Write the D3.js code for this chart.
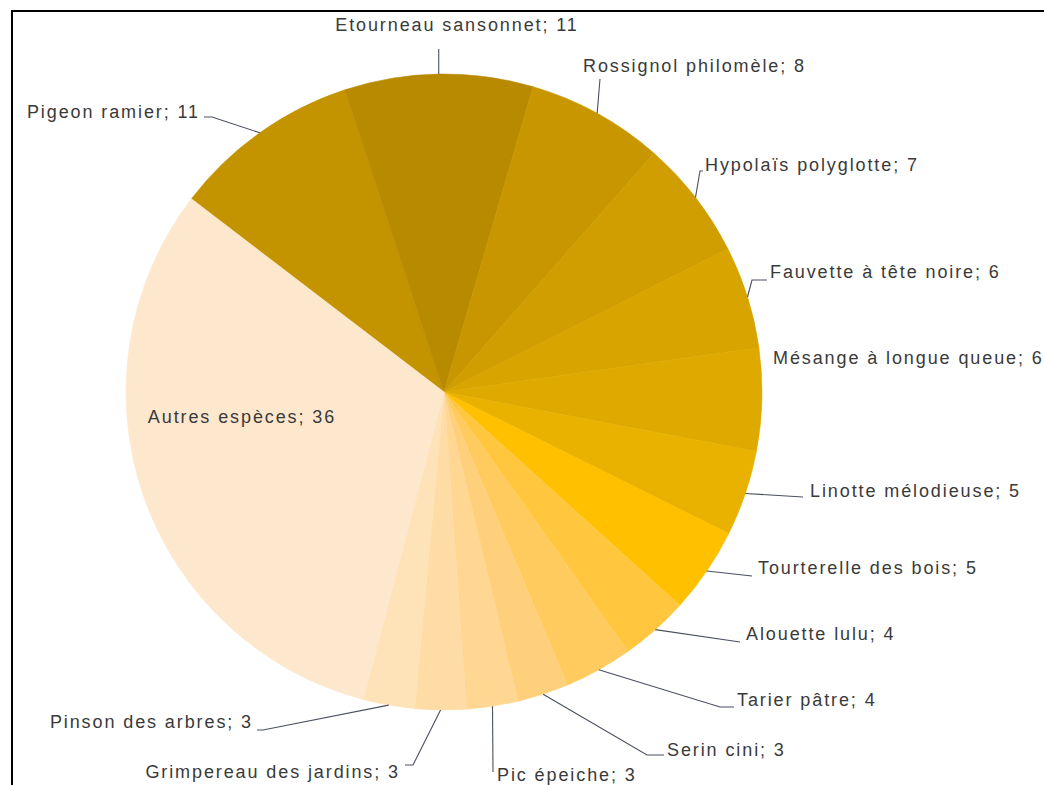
<!DOCTYPE html>
<html>
<head>
<meta charset="utf-8">
<script src="https://cdn.jsdelivr.net/npm/d3@7"></script>
<style>
  body { margin: 0; background: #fff; overflow: hidden; }
  text { font-family: "Liberation Sans", Arial, sans-serif; }
</style>
</head>
<body>
<div id="chart"></div>
<script>
// Data
var species = ["Pigeon ramier", "Etourneau sansonnet", "Rossignol philomèle", "Hypolaïs polyglotte",
    "Fauvette à tête noire", "Mésange à longue queue", "Linotte mélodieuse", "Tourterelle des bois",
    "Alouette lulu", "Tarier pâtre", "Serin cini", "Pic épeiche", "Grimpereau des jardins",
    "Pinson des arbres", "Autres espèces"];
var counts = [11, 11, 8, 7, 6, 6, 5, 5, 4, 4, 3, 3, 3, 3, 36];
var colors = ["#c39300", "#b88a00", "#c89700", "#d09e00", "#d7a400", "#dfaa00", "#e9b200", "#ffc000",
    "#ffc63e", "#ffcb5e", "#ffd07c", "#ffd692", "#ffdca6", "#fee2b8", "#fde8cd"];

// Label layout (page px): text position, anchor, and leader elbow/end points
var labelLayout = [
    {x: 200, y: 112, anchor: "end",    leader: [[212, 117], [204, 117]]},
    {x: 457, y: 25,  anchor: "middle", leader: [[null, 49]]},
    {x: 583, y: 66,  anchor: "start",  leader: [[600, 79]]},
    {x: 705, y: 165, anchor: "start",  leader: [[700, 171], [703, 171]]},
    {x: 770, y: 272, anchor: "start",  leader: [[752, 280], [767, 280]]},
    {x: 773, y: 358, anchor: "start",  leader: null},
    {x: 810, y: 491, anchor: "start",  leader: [[803, 497]]},
    {x: 758, y: 568, anchor: "start",  leader: [[752, 576]]},
    {x: 746, y: 634, anchor: "start",  leader: [[740, 642]]},
    {x: 737, y: 700, anchor: "start",  leader: [[720, 707], [734, 707]]},
    {x: 667, y: 750, anchor: "start",  leader: [[647, 755], [664, 755]]},
    {x: 497, y: 775, anchor: "start",  leader: [[493, 772]]},
    {x: 400, y: 772, anchor: "end",    leader: [[413, 765], [405, 765]]},
    {x: 253, y: 722, anchor: "end",    leader: [[263, 730], [257, 730]]},
    {x: 242, y: 417, anchor: "middle", leader: null}
];

var svgWidth = 1044;
var svgHeight = 785;
var cx = 444, cy = 392, radius = 318;
var startDeg = -52.6;

var svg = d3.select("#chart")
    .append("svg")
    .attr("width", svgWidth)
    .attr("height", svgHeight);

// frame (right and bottom edges fall outside the picture)
svg.append("rect")
    .attr("x", 12).attr("y", 11)
    .attr("width", 1100).attr("height", 820)
    .attr("fill", "none")
    .attr("stroke", "#000")
    .attr("stroke-width", 2);

var rows = species.map(function(s, i) {
    return {name: s, value: counts[i], color: colors[i], layout: labelLayout[i]};
});

var start = startDeg * Math.PI / 180;
var pie = d3.pie()
    .value(d => d.value)
    .sort(null)
    .startAngle(start)
    .endAngle(start + 2 * Math.PI);

var arc = d3.arc().innerRadius(0).outerRadius(radius);
var arcs = pie(rows);

var pieGroup = svg.append("g")
    .attr("transform", `translate(${cx}, ${cy})`);

pieGroup.selectAll("path.slice")
    .data(arcs)
    .enter()
    .append("path")
    .attr("class", "slice")
    .attr("d", arc)
    .attr("fill", d => d.data.color)
    .attr("stroke", d => d.data.color)
    .attr("stroke-width", 0.6);

// leader lines start from the rim at the slice's middle angle
function rimPoint(d) {
    var a = (d.startAngle + d.endAngle) / 2;
    return [cx + radius * Math.sin(a), cy - radius * Math.cos(a)];
}

svg.selectAll("path.leader")
    .data(arcs.filter(d => d.data.layout.leader))
    .enter()
    .append("path")
    .attr("class", "leader")
    .attr("d", function(d) {
        var p = rimPoint(d);
        var pts = [p].concat(d.data.layout.leader.map(q => [q[0] === null ? p[0] : q[0], q[1]]));
        return d3.line()(pts);
    })
    .attr("fill", "none")
    .attr("stroke", "#4a5060")
    .attr("stroke-width", 1.1);

svg.selectAll("text.label")
    .data(arcs)
    .enter()
    .append("text")
    .attr("class", "label")
    .attr("x", d => d.data.layout.x)
    .attr("y", d => d.data.layout.y)
    .attr("dy", "0.35em")
    .attr("text-anchor", d => d.data.layout.anchor)
    .attr("font-size", "18px")
    .attr("letter-spacing", "1.9px")
    .attr("fill", "#3a3a3a")
    .text(d => d.data.name + "; " + d.data.value);
</script>
</body>
</html>
